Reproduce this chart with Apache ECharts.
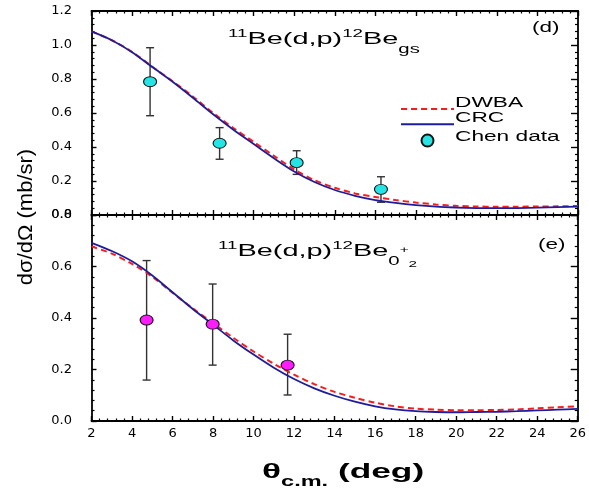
<!DOCTYPE html>
<html>
<head>
<meta charset="utf-8">
<title>11Be(d,p)12Be angular distributions</title>
<script src="https://cdn.jsdelivr.net/npm/echarts@6/dist/echarts.min.js"></script>
<style>
  html, body { margin: 0; padding: 0; background: #ffffff; }
  #chart { width: 589px; height: 488px; }
</style>
</head>
<body>
<div id="chart"></div>
<script>
// Centre-of-mass angles (deg) at which the calculations are tabulated
const angles = [2, 3, 4, 5, 6, 7, 8, 9, 10, 11, 12, 13, 14, 15, 16, 17, 18, 19, 20, 21, 22, 23, 24, 25, 26];

// Ground state (panel d): calculated cross sections, mb/sr
const dwbaGs = [1.080, 1.028, 0.960, 0.872, 0.787, 0.697, 0.600, 0.512, 0.430, 0.348, 0.268, 0.205, 0.160, 0.127, 0.106, 0.088, 0.073, 0.062, 0.054, 0.050, 0.049, 0.049, 0.050, 0.051, 0.053];
const crcGs = [1.080, 1.028, 0.958, 0.870, 0.784, 0.690, 0.593, 0.502, 0.418, 0.334, 0.256, 0.194, 0.147, 0.113, 0.088, 0.071, 0.058, 0.049, 0.044, 0.041, 0.040, 0.041, 0.043, 0.046, 0.049];

// Ground state data
const chenGsAngle = [4.89, 8.32, 12.12, 16.28];
const chenGsValue = [0.784, 0.422, 0.308, 0.151];
const chenGsLow = [0.584, 0.328, 0.239, 0.075];
const chenGsHigh = [0.984, 0.514, 0.378, 0.225];

// Second 0+ state (panel e): calculated cross sections, mb/sr
const dwbaEx = [0.678, 0.650, 0.610, 0.560, 0.498, 0.437, 0.380, 0.323, 0.270, 0.222, 0.180, 0.143, 0.113, 0.090, 0.071, 0.057, 0.048, 0.044, 0.042, 0.042, 0.043, 0.045, 0.049, 0.053, 0.057];
const crcEx = [0.692, 0.660, 0.620, 0.565, 0.500, 0.435, 0.374, 0.313, 0.258, 0.207, 0.163, 0.127, 0.098, 0.075, 0.057, 0.045, 0.038, 0.035, 0.034, 0.035, 0.036, 0.038, 0.041, 0.044, 0.047];

// Second 0+ state data
const chenExAngle = [4.72, 7.98, 11.68];
const chenExValue = [0.392, 0.376, 0.217];
const chenExLow = [0.159, 0.217, 0.101];
const chenExHigh = [0.623, 0.532, 0.337];

// Axis ticks
const xTicks = { min: 2, max: 26, interval: 2 };
const yTicksGs = { min: 0, max: 1.2, interval: 0.2 };
const yTicksEx = { min: 0, max: 0.8, interval: 0.2 };

// Legend entries
const legendNames = ['DWBA', 'CRC', 'Chen data'];

const FONT = '"Liberation Sans", Arial, sans-serif';
const TICKFONT = '"DejaVu Sans", sans-serif';

const pairs = (xs, ys) => xs.map((x, i) => [x, ys[i]]);
const bars = (xs, lo, hi) => xs.map((x, i) => [x, lo[i], hi[i]]);

function errorBar(params, api) {
  const x = api.value(0);
  const top = api.coord([x, api.value(2)]);
  const bot = api.coord([x, api.value(1)]);
  const w = 4;
  const st = { stroke: '#333333', lineWidth: 1.4 };
  return {
    type: 'group',
    children: [
      { type: 'line', shape: { x1: top[0], y1: top[1], x2: bot[0], y2: bot[1] }, style: st },
      { type: 'line', shape: { x1: top[0] - w, y1: top[1], x2: top[0] + w, y2: top[1] }, style: st },
      { type: 'line', shape: { x1: bot[0] - w, y1: bot[1], x2: bot[0] + w, y2: bot[1] }, style: st }
    ]
  };
}

const axisLine = { show: true, onZero: false, lineStyle: { color: '#000', width: 1.8 } };

function xAxisDef(grid, position, labels) {
  return {
    type: 'value', gridIndex: grid, position: position,
    min: xTicks.min, max: xTicks.max, interval: xTicks.interval,
    axisLine: axisLine,
    axisTick: { show: true, inside: true, length: 5, lineStyle: { color: '#000', width: 1.4 } },
    minorTick: { show: true, splitNumber: 5, length: 2.5, lineStyle: { color: '#000', width: 1.2 } },
    splitLine: { show: false },
    axisLabel: { show: labels, margin: 6, fontSize: 13, color: '#000', fontFamily: TICKFONT },
  };
}

function yAxisDef(grid, position, ticks, labels) {
  return {
    type: 'value', gridIndex: grid, position: position,
    min: ticks.min, max: ticks.max, interval: ticks.interval,
    axisLine: axisLine,
    axisTick: { show: true, inside: true, length: position === 'right' ? 7 : 5, lineStyle: { color: '#000', width: 1.4 } },
    minorTick: { show: true, splitNumber: 5, length: 3, lineStyle: { color: '#000', width: 1.2 } },
    splitLine: { show: false },
    axisLabel: {
      show: labels, margin: 19.5, fontSize: 13, color: '#000', fontFamily: TICKFONT,
      formatter: v => v.toFixed(1)
    }
  };
}

const dashed = { color: '#ff1a1a', width: 2, type: [6, 4] };
const solid = { color: '#1c1ca0', width: 1.8 };

// Horizontally widened annotation text
function label(x, y, text, size, sx, extra) {
  return Object.assign({
    type: 'text', x: x, y: y, scaleX: sx, silent: true,
    style: { text: text, fontSize: size, fontFamily: FONT, fill: '#000', align: 'left', verticalAlign: 'middle' }
  }, extra || {});
}

const titleRich = {
  m: { fontSize: 17, fontFamily: FONT, color: '#000', lineHeight: 22 },
  sup: { fontSize: 11, fontFamily: FONT, color: '#000', verticalAlign: 'top', lineHeight: 22 },
  sub: { fontSize: 12, fontFamily: FONT, color: '#000', verticalAlign: 'bottom', lineHeight: 22, padding: [0, 0, -6, 0] },
  pl: { fontSize: 9, fontFamily: FONT, color: '#000', verticalAlign: 'middle', lineHeight: 22 },
  sub2: { fontSize: 9, fontFamily: FONT, color: '#000', verticalAlign: 'bottom', lineHeight: 22, padding: [0, 0, -7, 0] }
};

const chart = echarts.init(document.getElementById('chart'), null, { renderer: 'canvas' });
chart.setOption({
  animation: false,
  backgroundColor: '#ffffff',
  grid: [
    { left: 91.5, top: 11, width: 486.5, height: 204 },
    { left: 91.5, top: 215, width: 486.5, height: 206 }
  ],
  xAxis: [
    xAxisDef(0, 'bottom', false),
    xAxisDef(0, 'top', false),
    xAxisDef(1, 'bottom', true),
    xAxisDef(1, 'top', false)
  ],
  yAxis: [
    yAxisDef(0, 'left', yTicksGs, true),
    yAxisDef(0, 'right', yTicksGs, false),
    yAxisDef(1, 'left', yTicksEx, true),
    yAxisDef(1, 'right', yTicksEx, false)
  ],
  legend: {
    orient: 'vertical', left: 395, top: 98,
    itemWidth: 53, itemHeight: 12, itemGap: 4.5,
    formatter: () => '',
    textStyle: { fontSize: 1 },
    data: [
      { name: legendNames[0], itemStyle: { opacity: 0 } },
      { name: legendNames[1], itemStyle: { opacity: 0 } },
      { name: legendNames[2] }
    ]
  },
  series: [
    { name: 'DWBA', type: 'line', xAxisIndex: 0, yAxisIndex: 0, data: pairs(angles, dwbaGs), smooth: 0.3, symbol: 'none', lineStyle: dashed, itemStyle: { color: dashed.color } },
    { name: 'CRC', type: 'line', xAxisIndex: 0, yAxisIndex: 0, data: pairs(angles, crcGs), smooth: 0.3, symbol: 'none', lineStyle: solid, itemStyle: { color: solid.color } },
    { name: 'gs errors', type: 'custom', xAxisIndex: 0, yAxisIndex: 0, data: bars(chenGsAngle, chenGsLow, chenGsHigh), renderItem: errorBar, encode: { x: 0, y: [1, 2] }, z: 3 },
    { name: 'Chen data', type: 'scatter', xAxisIndex: 0, yAxisIndex: 0, data: pairs(chenGsAngle, chenGsValue), symbol: 'circle', symbolSize: [13, 10], itemStyle: { color: '#22e6e6', borderColor: '#111', borderWidth: 1, opacity: 1 }, z: 4 },

    { name: 'DWBA 0+2', type: 'line', xAxisIndex: 2, yAxisIndex: 2, data: pairs(angles, dwbaEx), smooth: 0.3, symbol: 'none', lineStyle: dashed, itemStyle: { color: dashed.color } },
    { name: 'CRC 0+2', type: 'line', xAxisIndex: 2, yAxisIndex: 2, data: pairs(angles, crcEx), smooth: 0.3, symbol: 'none', lineStyle: solid, itemStyle: { color: solid.color } },
    { name: '0+2 errors', type: 'custom', xAxisIndex: 2, yAxisIndex: 2, data: bars(chenExAngle, chenExLow, chenExHigh), renderItem: errorBar, encode: { x: 0, y: [1, 2] }, z: 3 },
    { name: 'Chen data 0+2', type: 'scatter', xAxisIndex: 2, yAxisIndex: 2, data: pairs(chenExAngle, chenExValue), symbol: 'circle', symbolSize: [13, 10], itemStyle: { color: '#ff1aff', borderColor: '#111', borderWidth: 1, opacity: 1 }, z: 4 }
  ],
  graphic: [
    // reaction labels
    {
      type: 'text', x: 228, y: 28, scaleX: 1.7, silent: true,
      style: { text: '{sup|11}{m|Be(d,p)}{sup|12}{m|Be}{sub|gs}', rich: titleRich, verticalAlign: 'top' }
    },
    {
      type: 'text', x: 218, y: 240, scaleX: 1.7, silent: true,
      style: { text: '{sup|11}{m|Be(d,p)}{sup|12}{m|Be}{sub|0}{pl|+}{sub2|2}', rich: titleRich, verticalAlign: 'top' }
    },
    // panel tags
    label(532, 28, '(d)', 15, 1.5),
    label(538, 245, '(e)', 15, 1.5),
    // legend texts
    label(455, 103, legendNames[0], 14, 1.62),
    label(455, 118, legendNames[1], 14, 1.62),
    label(455, 137, legendNames[2], 14, 1.62),
    // y axis title
    {
      type: 'text', x: 26, y: 217, rotation: Math.PI / 2, scaleX: 1.1, silent: true,
      style: { text: 'dσ/dΩ (mb/sr)', fontSize: 20, fontFamily: FONT, fill: '#000', align: 'center', verticalAlign: 'middle' }
    },
    // x axis title
    {
      type: 'text', x: 262, y: 460, scaleX: 1.68, silent: true,
      style: {
        text: '{t|θ}{s|c.m.}{t| (deg)}', verticalAlign: 'top',
        rich: {
          t: { fontSize: 21, fontWeight: 'bold', fontFamily: FONT, color: '#000', lineHeight: 24 },
          s: { fontSize: 14, fontWeight: 'bold', fontFamily: FONT, color: '#000', verticalAlign: 'bottom', lineHeight: 24, padding: [0, 0, -5, 0] }
        }
      }
    }
  ]
});
</script>
</body>
</html>
